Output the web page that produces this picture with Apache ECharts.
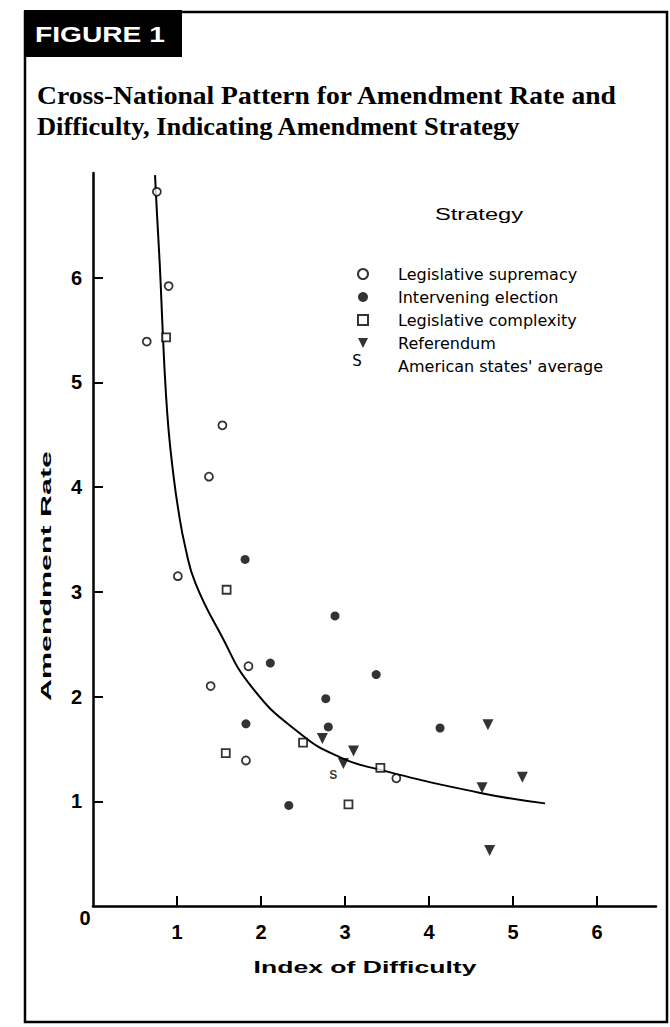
<!DOCTYPE html>
<html>
<head>
<meta charset="utf-8">
<script src="https://cdn.jsdelivr.net/npm/echarts@6/dist/echarts.min.js"></script>
<style>
html,body{margin:0;padding:0;background:#fff;}
#chart{width:670px;height:1027px;}
</style>
</head>
<body>
<div id="chart"></div>
<script>
// ---- data ----
const xTickValues = [1, 2, 3, 4, 5, 6];
const xLabelValues = [0, 1, 2, 3, 4, 5, 6];
const yTickValues = [1, 2, 3, 4, 5, 6];
const seriesNames = ['Legislative supremacy', 'Intervening election', 'Legislative complexity', 'Referendum', "American states' average"];
const supremacy = [[0.76,6.82],[0.90,5.92],[0.64,5.39],[1.54,4.59],[1.38,4.10],[1.01,3.15],[1.85,2.29],[1.40,2.10],[1.82,1.39],[3.61,1.22]];
const election = [[1.81,3.31],[2.88,2.77],[2.11,2.32],[3.37,2.21],[2.77,1.98],[2.80,1.71],[1.82,1.74],[4.13,1.70],[2.33,0.96]];
const complexity = [[0.87,5.43],[1.59,3.02],[1.58,1.46],[2.50,1.56],[3.42,1.32],[3.04,0.97]];
const referendum = [[2.73,1.60],[3.10,1.48],[2.98,1.36],[4.70,1.73],[4.63,1.13],[5.11,1.23],[4.72,0.53]];
const statesAverage = [[2.86,1.25]];
const fitCurve = [[0.738,6.98],[0.762,6.60],[0.795,6.12],[0.815,5.76],[0.833,5.43],[0.863,4.96],[0.899,4.55],[0.946,4.19],[1.012,3.80],[1.10,3.42],[1.22,3.08],[1.51,2.61],[1.89,2.09],[2.46,1.65],[2.94,1.42],[3.42,1.30],[4.61,1.08],[5.38,0.98]];

// ---- helpers for stretched text (scanned type is wide) ----
const mctx = document.createElement('canvas').getContext('2d');
function stretch(text, font, target) {
  mctx.font = font;
  return target / mctx.measureText(text).width;
}
function gText(text, font, x, y, target, align, rotation) {
  return {
    type: 'text', x: x, y: y, rotation: rotation || 0,
    scaleX: stretch(text, font, target),
    style: { text: text, font: font, fill: '#000', align: align || 'left', verticalAlign: 'middle' }
  };
}

const chart = echarts.init(document.getElementById('chart'), null, { renderer: 'svg' });
const lblFont = { fontFamily: 'Liberation Sans', fontWeight: 'bold', fontSize: 20, color: '#000' };

const titleFont = 'bold 26px "Liberation Serif"';
const option = {
  backgroundColor: '#fff',
  animation: false,
  grid: { left: 93, top: 173, width: 563, height: 733 },
  xAxis: {
    type: 'value', min: 0, max: 6.7,
    axisLine: { show: true, onZero: false, lineStyle: { color: '#000', width: 2.5 } },
    axisTick: { show: true, inside: true, length: 10, customValues: xTickValues, lineStyle: { color: '#000', width: 2 } },
    axisLabel: {
      customValues: xLabelValues, margin: 2,
      formatter: function (v) { return v === 0 ? '{z|0}' : '{n|' + v + '}'; },
      rich: {
        n: Object.assign({ padding: [14, 0, 0, 0] }, lblFont),
        z: Object.assign({ padding: [0, 16, 0, 0] }, lblFont)
      }
    },
    splitLine: { show: false }
  },
  yAxis: {
    type: 'value', min: 0, max: 7, interval: 1,
    axisLine: { show: true, onZero: false, lineStyle: { color: '#000', width: 2.5 } },
    axisTick: { show: true, inside: true, length: 10, customValues: yTickValues, lineStyle: { color: '#000', width: 2 } },
    axisLabel: Object.assign({ customValues: yTickValues, margin: 11 }, lblFont),
    splitLine: { show: false }
  },
  legend: {
    orient: 'vertical', left: 352, top: 261,
    itemWidth: 10, itemHeight: 10, itemGap: 7,
    selectedMode: false,
    data: [
      { name: seriesNames[0] }, { name: seriesNames[1] }, { name: seriesNames[2] }, { name: seriesNames[3] },
      { name: seriesNames[4], icon: 'none' }
    ],
    textStyle: { fontFamily: 'DejaVu Sans', fontSize: 16, color: '#000', lineHeight: 16, padding: [0, 0, 0, 25] }
  },
  series: [
    {
      name: 'fit', type: 'line', data: fitCurve, showSymbol: false, symbol: 'none',
      smooth: 0.5, z: 1, silent: true,
      lineStyle: { color: '#000', width: 2 }
    },
    {
      name: seriesNames[0], type: 'scatter', data: supremacy, symbol: 'circle', symbolSize: 8, z: 3,
      itemStyle: { color: '#fff', borderColor: '#000', borderWidth: 1.8 }, emphasis: { disabled: true }
    },
    {
      name: seriesNames[1], type: 'scatter', data: election, symbol: 'circle', symbolSize: 9, z: 3,
      itemStyle: { color: '#000' }, emphasis: { disabled: true }
    },
    {
      name: seriesNames[2], type: 'scatter', data: complexity, symbol: 'rect', symbolSize: 8, z: 3,
      itemStyle: { color: '#fff', borderColor: '#000', borderWidth: 1.8 }, emphasis: { disabled: true }
    },
    {
      name: seriesNames[3], type: 'scatter', data: referendum, symbol: 'path://M0,0L10,0L5,10Z', symbolSize: [11, 11], z: 3,
      itemStyle: { color: '#000' }, emphasis: { disabled: true }
    },
    {
      name: seriesNames[4], type: 'scatter', data: statesAverage, symbol: 'circle', symbolSize: 10, z: 3,
      itemStyle: { color: 'rgba(0,0,0,0)' }, emphasis: { disabled: true },
      label: { show: true, position: 'inside', formatter: 'S', fontFamily: 'Liberation Sans', fontWeight: 'bold', fontSize: 12, color: '#000' }
    }
  ],
  graphic: [
    { type: 'rect', shape: { x: 25, y: 12, width: 642, height: 1010 }, style: { fill: 'none', stroke: '#000', lineWidth: 2.5 }, silent: true },
    { type: 'rect', shape: { x: 24, y: 10, width: 158, height: 47 }, style: { fill: '#000' }, silent: true },
    {
      type: 'text', x: 35, y: 34, scaleX: stretch('FIGURE 1', 'bold 22px "Liberation Sans"', 130),
      style: { text: 'FIGURE 1', font: 'bold 22px "Liberation Sans"', fill: '#fff', align: 'left', verticalAlign: 'middle' }
    },
    gText('Cross-National Pattern for Amendment Rate and', titleFont, 37, 95, 581, 'left'),
    gText('Difficulty, Indicating Amendment Strategy', titleFont, 37, 127, 484, 'left'),
    gText('Strategy', '16px "Liberation Sans"', 479, 214, 88, 'center'),
    gText('Amendment Rate', 'bold 15px "Liberation Sans"', 46, 576, 250, 'center', Math.PI / 2),
    gText('Index of Difficulty', 'bold 16px "Liberation Sans"', 365, 968, 223, 'center'),
    { type: 'text', x: 357, y: 361, style: { text: 'S', font: '15px "DejaVu Sans"', fill: '#000', align: 'center', verticalAlign: 'middle' } }
  ]
};
chart.setOption(option);
</script>
</body>
</html>
